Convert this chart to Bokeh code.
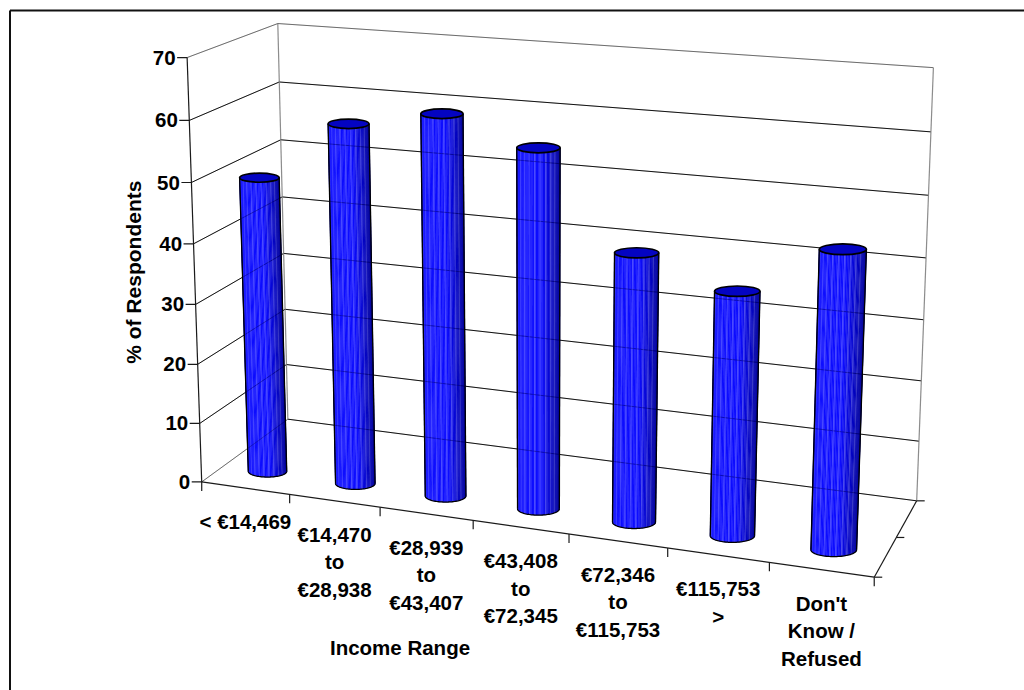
import numpy as np
from bokeh.plotting import figure
from bokeh.models import Range1d
from bokeh.core.properties import value
from bokeh.embed import file_html
from bokeh.resources import INLINE

# ---------------- data ----------------
category_lines = [
    ["< €14,469"],
    ["€14,470", "to", "€28,938"],
    ["€28,939", "to", "€43,407"],
    ["€43,408", "to", "€72,345"],
    ["€72,346", "to", "€115,753"],
    ["€115,753", ">"],
    ["Don't", "Know /", "Refused"],
]
respondent_pct = [49.6, 59.6, 62.4, 58.3, 43.3, 38.9, 46.9]
y_ticks = [0, 10, 20, 30, 40, 50, 60, 70]
y_title = "% of Respondents"
x_title = "Income Range"

# ---------------- layout (3-D frame calibration, pixel space) ----------------
W, H = 1024, 690
N_CAT = len(category_lines)
V_MAX = y_ticks[-1]

front_left_px = [(201.7, 480.7), (199, 422.3), (197.7, 363.3), (195.7, 303.3),
                 (192.3, 243.3), (190.7, 182), (188.3, 119.3), (186.7, 57.3)]
back_left_px = [(286.7, 418.3), (285, 364.3), (284, 310), (283.3, 253.3),
                (282.7, 197.3), (281, 139.3), (279, 81.3), (276.7, 22.7)]
back_right_px = [(916.7, 499.3), (919, 440), (920.7, 380), (923.3, 319),
                 (925, 256.7), (928.3, 195), (930, 131.7), (933.3, 67.7)]
front_edge_px = [(201.7, 480.7), (289.3, 494), (380, 507.3), (472.7, 520.7),
                 (568.3, 534), (667.3, 548.3), (768.3, 563.3), (873.3, 576)]

world, img = [], []
for k, t in enumerate(y_ticks):
    world.append((0, t, 0)); img.append(front_left_px[k])
    world.append((0, t, 1)); img.append(back_left_px[k])
    world.append((N_CAT, t, 1)); img.append(back_right_px[k])
for k in range(N_CAT + 1):
    world.append((k, 0, 0)); img.append(front_edge_px[k])

CU, CV, CS = 550.0, 320.0, 350.0


def fit_camera(world, img):
    A = []
    for (X, Y, Z), (u, v) in zip(world, img):
        Y = Y / 10.0
        u = (u - CU) / CS
        v = (v - CV) / CS
        A.append([X, Y, Z, 1, 0, 0, 0, 0, -u * X, -u * Y, -u * Z, -u])
        A.append([0, 0, 0, 0, X, Y, Z, 1, -v * X, -v * Y, -v * Z, -v])
    _, _, Vt = np.linalg.svd(np.array(A, float))
    return Vt[-1].reshape(3, 4)


P = fit_camera(world, img)


def proj(X, V, Z):
    h = P @ np.array([X, V / 10.0, Z, 1.0])
    return h[0] / h[2] * CS + CU, h[1] / h[2] * CS + CV


ZM = 0.25       # depth of the cylinders inside the floor
R = 0.222       # cylinder radius in category units
ELL_TOP = 0.23
ELL_BOT = 0.30

p = figure(width=W, height=H, x_range=Range1d(0, W), y_range=Range1d(H, 0),
           output_backend="svg", toolbar_location=None, min_border=0,
           x_axis_location=None, y_axis_location=None)
p.grid.visible = False
p.outline_line_color = None
p.background_fill_color = "white"
p.border_fill_color = "white"

# chart border
p.multi_line([[9.5, 1030], [9.5, 9.5]], [[10, 10], [10, 700]],
             line_color="#111111", line_width=2)

GRAY = "#8c8c8c"
BLACK = "#1a1a1a"


def seg(a, b):
    return [a[0], b[0]], [a[1], b[1]]


def wall_lines():
    xs, ys, cols = [], [], []
    for t in y_ticks:
        col = GRAY if t == V_MAX else BLACK
        x, y = seg(proj(0, t, 1), proj(N_CAT, t, 1))
        xs.append(x); ys.append(y); cols.append(col)
        col2 = GRAY if t in (0, V_MAX) else BLACK
        x, y = seg(proj(0, t, 0), proj(0, t, 1))
        xs.append(x); ys.append(y); cols.append(col2)
    return xs, ys, cols


gx, gy, gc = wall_lines()
p.multi_line(gx, gy, line_color=gc, line_width=1)

# wall vertical edges
ex, ey = [], []
for a, b in [((0, 0, 1), (0, V_MAX, 1)), ((N_CAT, 0, 1), (N_CAT, V_MAX, 1))]:
    x, y = seg(proj(*a), proj(*b)); ex.append(x); ey.append(y)
p.multi_line(ex, ey, line_color=GRAY, line_width=1.2)

# axes: front vertical axis, category axis, depth axis
ax, ay = [], []
for a, b in [((0, 0, 0), (0, V_MAX, 0)), ((0, 0, 0), (N_CAT, 0, 0)),
             ((N_CAT, 0, 0), (N_CAT, 0, 1))]:
    x, y = seg(proj(*a), proj(*b)); ax.append(x); ay.append(y)
# ticks
for t in y_ticks:
    u, v = proj(0, t, 0)
    ax.append([u - 10, u]); ay.append([v, v])
for k in range(N_CAT + 1):
    u, v = proj(k, 0, 0)
    ax.append([u, u]); ay.append([v, v + 9])
for z in (0, 0.5, 1):
    u, v = proj(N_CAT, 0, z)
    ax.append([u, u + 8]); ay.append([v, v])
p.multi_line(ax, ay, line_color=BLACK, line_width=1.2)

# ---------------- cylinders ----------------
NS = 48
phis = np.linspace(np.pi, 0, NS + 1)


def shade(s, j):
    if s < 0.03:
        r, g, b = 0, 0, 200
    elif s < 0.6:
        r, g, b = 14, 14, 255
    else:
        t = (s - 0.6) / 0.4
        r = g = 14 * (1 - t)
        b = 250 - 95 * t
    if j % 4 == 1 and 0.03 < s < 0.9:
        r, g, b = r + (255 - r) * 0.2, g + (255 - g) * 0.2, b + (255 - b) * 0.2
    return "#%02x%02x%02x" % (int(r), int(g), int(b))


sx, sy, sc = [], [], []
ox, oy = [], []
tops = dict(x=[], y=[], w=[], h=[])
for i, val in enumerate(respondent_pct):
    Xc = i + 0.5
    bl, br, bc = proj(Xc - R, 0, ZM), proj(Xc + R, 0, ZM), proj(Xc, 0, ZM)
    tl, tr, tc = proj(Xc - R, val, ZM), proj(Xc + R, val, ZM), proj(Xc, val, ZM)
    wb, wt = br[0] - bl[0], tr[0] - tl[0]
    ub, vb = (bl[0] + br[0]) / 2, bc[1]
    ut, vt = (tl[0] + tr[0]) / 2, tc[1]
    hb, ht = wb * ELL_BOT, wt * ELL_TOP
    for j in range(NS):
        a0, a1 = phis[j], phis[j + 1]
        sx.append([ub + wb / 2 * np.cos(a0), ub + wb / 2 * np.cos(a1),
                   ut + wt / 2 * np.cos(a1), ut + wt / 2 * np.cos(a0)])
        sy.append([vb + hb / 2 * np.sin(a0), vb + hb / 2 * np.sin(a1),
                   vt + ht / 2 * np.sin(a1), vt + ht / 2 * np.sin(a0)])
        sc.append(shade((1 + np.cos((a0 + a1) / 2)) / 2, j))
    ox.append([ub - wb / 2, ut - wt / 2]); oy.append([vb, vt])
    ox.append([ub + wb / 2, ut + wt / 2]); oy.append([vb, vt])
    ox.append(list(ub + wb / 2 * np.cos(phis))); oy.append(list(vb + hb / 2 * np.sin(phis)))
    tops["x"].append(ut); tops["y"].append(vt); tops["w"].append(wt); tops["h"].append(ht)

p.patches(sx, sy, fill_color=sc, line_color=sc, line_width=0.4)
# faint see-through of gridlines
p.multi_line(gx, gy, line_color="black", line_width=1, line_alpha=0.22)
p.multi_line(ox, oy, line_color="black", line_width=1.3)
p.ellipse(x=tops["x"], y=tops["y"], width=tops["w"], height=tops["h"],
          fill_color="#0404c2", line_color="black", line_width=1.7)

# ---------------- texts ----------------
FONT = value("Liberation Sans")
FS = "20.5px"

tx, ty, tt = [], [], []
for t in y_ticks:
    u, v = proj(0, t, 0)
    tx.append(u - 11.5); ty.append(v); tt.append(str(t))
p.text(tx, ty, text=tt, text_font=FONT, text_font_style="bold",
       text_font_size=FS, text_align="right", text_baseline="middle",
       text_color="black")

cx, cy, ct = [], [], []
for i, lines in enumerate(category_lines):
    u, v = proj(i + 0.5, 0, 0)
    for k, line in enumerate(lines):
        cx.append(u); cy.append(v + 33.5 + 27.5 * k); ct.append(line)
p.text(cx, cy, text=ct, text_font=FONT, text_font_style="bold",
       text_font_size=FS, text_align="center", text_baseline="middle",
       text_color="black")

p.text([399.5], [646.7], text=[x_title], text_font=FONT, text_font_style="bold",
       text_font_size=FS, text_align="center", text_baseline="middle",
       text_color="black")
p.text([133], [271.7], text=[y_title], angle=np.pi / 2, text_font=FONT,
       text_font_style="bold", text_font_size="21px", text_align="center",
       text_baseline="middle", text_color="black")

open("out.html", "w").write(file_html(p, INLINE))
